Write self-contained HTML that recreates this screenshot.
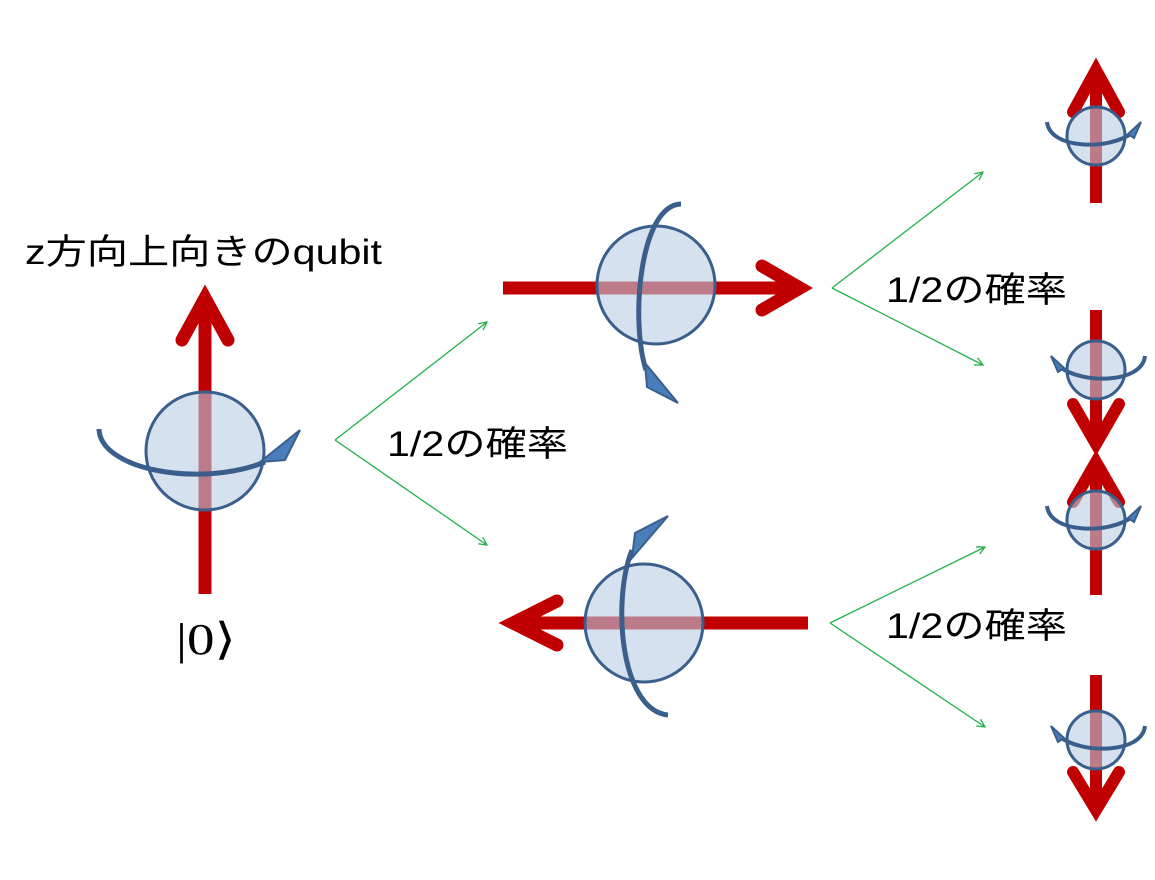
<!DOCTYPE html>
<html><head><meta charset="utf-8"><style>
html,body{margin:0;padding:0;background:#fff;}
svg{display:block;}
text{font-family:"Liberation Sans","Noto Sans CJK JP",sans-serif;}
</style></head><body>
<svg width="1155" height="880" viewBox="0 0 1155 880" xmlns="http://www.w3.org/2000/svg">
<defs>
<marker id="g" markerWidth="10" markerHeight="10" refX="9" refY="5" orient="auto" markerUnits="userSpaceOnUse">
<path d="M1,1 L9,5 L1,9" fill="none" stroke="#22b04a" stroke-width="1.3"/>
</marker>
</defs>

<!-- text -->
<text x="25" y="264" font-size="35" textLength="357" lengthAdjust="spacingAndGlyphs">z方向上向きのqubit</text>
<text x="176" y="654" font-size="44" textLength="60" lengthAdjust="spacingAndGlyphs" style="font-family:'Liberation Serif',serif">|0⟩</text>
<text x="387" y="456" font-size="35" textLength="181" lengthAdjust="spacingAndGlyphs">1/2の確率</text>
<text x="886" y="302" font-size="35" textLength="181" lengthAdjust="spacingAndGlyphs">1/2の確率</text>
<text x="886" y="638" font-size="35" textLength="181" lengthAdjust="spacingAndGlyphs">1/2の確率</text>

<!-- green arrows -->
<g stroke="#22b04a" stroke-width="1.3" fill="none" marker-end="url(#g)">
<path d="M335,440 L487,322"/><path d="M335,440 L487,545"/>
<path d="M832,288 L983,172"/><path d="M832,288 L983,365"/>
<path d="M830,623 L985,547"/><path d="M830,623 L985,727"/>
</g>

<!-- Sphere 1 -->
<g>
<line x1="205" y1="305" x2="205" y2="594" stroke="#c00000" stroke-width="13"/>
<polyline points="182,340 205,298 228,340" fill="none" stroke="#c00000" stroke-width="13" stroke-linecap="round" stroke-linejoin="miter"/>
<circle cx="205" cy="451" r="59" fill="#b9cde5" fill-opacity="0.6" stroke="#3a5f8c" stroke-width="3"/>
<path d="M99,429 C100,470 200,488 265,462" fill="none" stroke="#3a5f8c" stroke-width="5"/>
<path d="M260,462 L300,430 L285,460 Z" fill="#4a7ebb" stroke="#3a5f8c" stroke-width="2"/>
</g>

<!-- Sphere 2 -->
<g>
<line x1="503" y1="288" x2="795" y2="288" stroke="#c00000" stroke-width="13"/>
<polyline points="762,266 800,288 762,310" fill="none" stroke="#c00000" stroke-width="13" stroke-linecap="round"/>
<circle cx="656" cy="285" r="59" fill="#b9cde5" fill-opacity="0.6" stroke="#3a5f8c" stroke-width="3"/>
<path d="M681,204 C640,205 630,320 646,370" fill="none" stroke="#3a5f8c" stroke-width="5"/>
<path d="M645,363 L647,387 L678,403 Z" fill="#4a7ebb" stroke="#3a5f8c" stroke-width="2"/>
</g>

<!-- Sphere 3 -->
<g>
<line x1="518" y1="623" x2="808" y2="623" stroke="#c00000" stroke-width="13"/>
<polyline points="557,601 513,623 557,645" fill="none" stroke="#c00000" stroke-width="13" stroke-linecap="round"/>
<circle cx="644" cy="623" r="59" fill="#b9cde5" fill-opacity="0.6" stroke="#3a5f8c" stroke-width="3"/>
<path d="M668,715 C620,710 612,600 632,550" fill="none" stroke="#3a5f8c" stroke-width="5"/>
<path d="M632,558 L635,533 L668,516 Z" fill="#4a7ebb" stroke="#3a5f8c" stroke-width="2"/>
</g>

<!-- small spheres: up -->
<g>
<line x1="1096" y1="75" x2="1096" y2="203" stroke="#c00000" stroke-width="12"/>
<polyline points="1073,112 1096,70 1119,112" fill="none" stroke="#c00000" stroke-width="12" stroke-linecap="round"/>
<circle cx="1096" cy="136" r="29" fill="#b9cde5" fill-opacity="0.6" stroke="#3a5f8c" stroke-width="3"/>
<path d="M1047,122 C1050,150 1110,150 1132,133" fill="none" stroke="#3a5f8c" stroke-width="4"/>
<path d="M1128,134 L1141,122 L1134,138 Z" fill="#4a7ebb" stroke="#3a5f8c" stroke-width="2"/>
</g>
<g transform="translate(0,384)">
<line x1="1096" y1="80" x2="1096" y2="211" stroke="#c00000" stroke-width="12"/>
<polyline points="1073,118 1096,78 1119,118" fill="none" stroke="#c00000" stroke-width="12" stroke-linecap="round"/>
<circle cx="1096" cy="136" r="29" fill="#b9cde5" fill-opacity="0.6" stroke="#3a5f8c" stroke-width="3"/>
<path d="M1047,122 C1050,150 1110,150 1132,133" fill="none" stroke="#3a5f8c" stroke-width="4"/>
<path d="M1128,134 L1141,122 L1134,138 Z" fill="#4a7ebb" stroke="#3a5f8c" stroke-width="2"/>
</g>
<!-- small spheres: down -->
<g>
<line x1="1096" y1="310" x2="1096" y2="440" stroke="#c00000" stroke-width="12"/>
<polyline points="1073,404 1096,444 1119,404" fill="none" stroke="#c00000" stroke-width="12" stroke-linecap="round"/>
<circle cx="1096" cy="370" r="29" fill="#b9cde5" fill-opacity="0.6" stroke="#3a5f8c" stroke-width="3"/>
<path d="M1145,356 C1142,384 1082,384 1060,367" fill="none" stroke="#3a5f8c" stroke-width="4"/>
<path d="M1064,368 L1051,356 L1058,372 Z" fill="#4a7ebb" stroke="#3a5f8c" stroke-width="2"/>
</g>
<g>
<line x1="1096" y1="675" x2="1096" y2="805" stroke="#c00000" stroke-width="12"/>
<polyline points="1073,772 1096,810 1119,772" fill="none" stroke="#c00000" stroke-width="12" stroke-linecap="round"/>
<circle cx="1096" cy="740" r="29" fill="#b9cde5" fill-opacity="0.6" stroke="#3a5f8c" stroke-width="3"/>
<path d="M1145,726 C1142,754 1082,754 1060,737" fill="none" stroke="#3a5f8c" stroke-width="4"/>
<path d="M1064,738 L1051,726 L1058,742 Z" fill="#4a7ebb" stroke="#3a5f8c" stroke-width="2"/>
</g>
</svg>
</body></html>
